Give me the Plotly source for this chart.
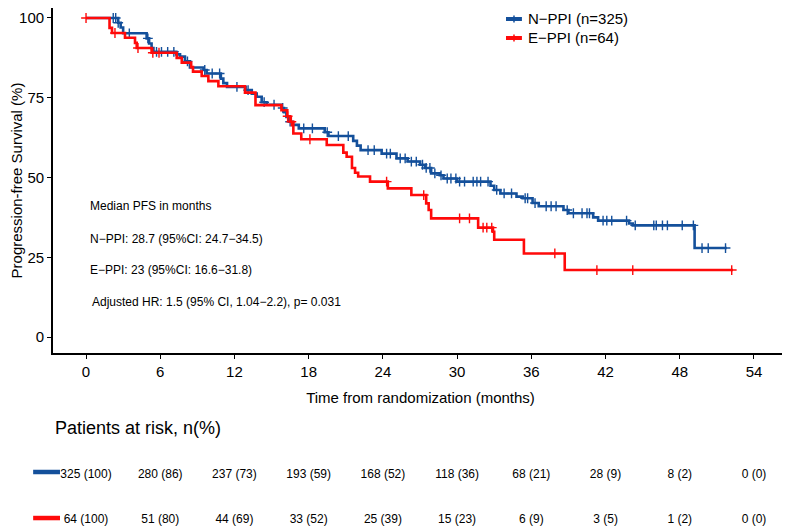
import numpy as np
import plotly.graph_objects as go

# ---------------- data ----------------
# N-PPI Kaplan-Meier steps (months, survival %)
times_nppi = [0, 2.6, 2.8, 3.0, 4.9, 5.1, 5.3, 5.45, 7.3, 7.6, 8.0, 8.4, 9.5, 9.75,
              10.9, 11.1, 11.4, 12.9, 13.4, 13.8, 14.2, 14.6, 15.8, 16.0, 16.2, 16.4,
              16.7, 17.2, 19.3, 19.6, 21.6, 21.9, 22.2, 23.9, 25.1, 26.0, 27.0, 27.4,
              27.9, 28.6, 28.9, 30.0, 32.7, 33.0, 33.5, 34.8, 35.3, 36.1, 36.6, 38.6,
              39.0, 41.0, 41.4, 43.9, 44.2, 49.2]
surv_nppi = [100, 98.5, 97.0, 95.2, 93.6, 92.0, 90.6, 89.4, 88.6, 87.9, 86.4, 84.5, 83.7, 82.6,
             81.0, 79.6, 78.4, 77.4, 76.3, 75.3, 73.6, 72.8, 71.8, 70.5, 69.0, 67.5,
             66.5, 65.4, 64.2, 63.0, 61.5, 60.0, 58.6, 57.5, 56.0, 55.0, 54.0, 53.0,
             51.3, 50.7, 49.7, 48.7, 47.4, 46.1, 45.0, 44.0, 43.5, 42.0, 41.0, 39.8,
             38.8, 37.5, 36.5, 35.6, 35.0, 27.9]
end_nppi = 51.8
cens_nppi = [2.2, 2.4, 2.6, 3.5, 5.0, 5.7, 6.1, 6.6, 7.1, 8.2, 9.6, 10.2, 10.8, 12.2, 13.1,
             14.4, 15.2, 15.9, 16.5, 17.6, 18.3, 19.5, 20.4, 21.2, 22.8, 23.3, 24.3, 24.6,
             25.4, 25.8, 26.3, 26.7, 27.2, 27.5, 27.8, 28.2, 28.7, 29.2, 29.5, 29.9, 30.2,
             30.6, 31.3, 31.6, 31.9, 32.5, 33.2, 33.8, 34.4, 35.5, 35.7, 36.3, 37.2, 37.6,
             38.0, 38.9, 39.4, 40.1, 40.5, 40.7, 41.8, 42.1, 42.5, 43.7, 44.4, 45.9, 46.1,
             46.6, 47.0, 48.2, 49.1, 49.8, 50.3, 51.7]

# E-PPI Kaplan-Meier steps
times_eppi = [0, 1.9, 2.1, 3.15, 3.96, 4.1, 5.3, 7.33, 7.74, 8.5, 8.65, 9.35, 9.89, 10.7,
              12.85, 13.7, 15.8, 16.27, 16.5, 16.76, 17.4, 19.46, 20.8, 21.07, 21.5, 21.75,
              22.0, 22.96, 24.4, 26.3, 27.5, 27.7, 27.9, 31.7, 32.9, 33.0, 35.4, 38.7]
surv_eppi = [100, 96.9, 95.3, 93.8, 92.2, 90.6, 89.1, 87.5, 86.0, 84.6, 83.2, 81.8, 80.2, 78.6,
             76.6, 72.7, 71.1, 69.2, 67.5, 63.8, 62.0, 60.2, 57.8, 56.5, 53.0, 51.5,
             50.3, 48.7, 46.6, 44.5, 41.9, 39.8, 37.2, 34.3, 33.0, 30.5, 26.2, 21.0]
end_eppi = 52.3
cens_eppi = [0, 2.34, 4.2, 5.4, 5.9, 16.3, 16.6, 18.1, 24.3, 27.3, 30.2, 31.0, 32.1, 32.4,
             32.8, 37.9, 41.3, 44.2, 52.2]

# numbers at risk
risk_times = [0, 6, 12, 18, 24, 30, 36, 42, 48, 54]
risk_n_nppi = [325, 280, 237, 193, 168, 118, 68, 28, 8, 0]
risk_p_nppi = [100, 86, 73, 59, 52, 36, 21, 9, 2, 0]
risk_n_eppi = [64, 51, 44, 33, 25, 15, 6, 3, 1, 0]
risk_p_eppi = [100, 80, 69, 52, 39, 23, 9, 5, 2, 0]

group_labels = ["N\u2212PPI (n=325)", "E\u2212PPI (n=64)"]

x_ticks = [0, 6, 12, 18, 24, 30, 36, 42, 48, 54]
y_ticks = [0, 25, 50, 75, 100]

BLUE = "#14509B"
RED = "#FF0A0A"
FONT = "Liberation Sans, Arial, sans-serif"


def step_xy(times, surv, end):
    return list(times) + [end], list(surv) + [surv[-1]]


def surv_at(times, surv, t):
    idx = np.searchsorted(np.asarray(times), np.asarray(t), side="right") - 1
    return list(np.asarray(surv)[idx])


fig = go.Figure()

for name, times, surv, end, cens, col in [
    (group_labels[0], times_nppi, surv_nppi, end_nppi, cens_nppi, BLUE),
    (group_labels[1], times_eppi, surv_eppi, end_eppi, cens_eppi, RED),
]:
    sx, sy = step_xy(times, surv, end)
    fig.add_trace(go.Scatter(x=sx, y=sy, mode="lines", line=dict(color=col, width=2.6, shape="hv"),
                             name=name, showlegend=False))
    fig.add_trace(go.Scatter(x=cens, y=surv_at(times, surv, cens), mode="markers",
                             marker=dict(symbol="cross-thin", size=7, line=dict(color=col, width=1.4)),
                             name=name + " censored", showlegend=False, hoverinfo="skip"))

# risk table rows (on a hidden second y axis sharing the x scale)
fig.add_trace(go.Scatter(x=risk_times, y=[1] * len(risk_times), yaxis="y2", mode="text",
                         text=[f"{n} ({p})" for n, p in zip(risk_n_nppi, risk_p_nppi)],
                         textfont=dict(size=12, color="black", family=FONT), showlegend=False,
                         cliponaxis=False, hoverinfo="skip"))
fig.add_trace(go.Scatter(x=risk_times, y=[0] * len(risk_times), yaxis="y2", mode="text",
                         text=[f"{n} ({p})" for n, p in zip(risk_n_eppi, risk_p_eppi)],
                         textfont=dict(size=12, color="black", family=FONT), showlegend=False,
                         cliponaxis=False, hoverinfo="skip"))

annot_font = dict(size=12, color="black", family=FONT)
leg_font = dict(size=15, color="black", family=FONT)
LEG_Y = [0.9791, 0.9430]
annotations = [
    dict(x=0.15, y=41.1, xref="x", yref="y", text="Median PFS in months", showarrow=False,
         xanchor="left", font=annot_font),
    dict(x=0.15, y=30.7, xref="x", yref="y", text="N\u2212PPI: 28.7 (95%CI: 24.7\u221234.5)",
         showarrow=False, xanchor="left", font=annot_font),
    dict(x=0.15, y=21.0, xref="x", yref="y", text="E\u2212PPI: 23 (95%CI: 16.6\u221231.8)",
         showarrow=False, xanchor="left", font=annot_font),
    dict(x=0.33, y=11.0, xref="x", yref="y",
         text="Adjusted HR: 1.5 (95% CI, 1.04\u22122.2), p= 0.031",
         showarrow=False, xanchor="left", font=annot_font),
    dict(x=0, y=0.2015, xref="paper", yref="paper", text="Patients at risk, n(%)",
         showarrow=False, xanchor="left", yanchor="middle",
         font=dict(size=18, color="black", family=FONT)),
    # legend labels
    dict(x=0.644, y=LEG_Y[0], xref="paper", yref="paper", text=group_labels[0], showarrow=False,
         xanchor="left", yanchor="middle", font=leg_font),
    dict(x=0.644, y=LEG_Y[1], xref="paper", yref="paper", text=group_labels[1], showarrow=False,
         xanchor="left", yanchor="middle", font=leg_font),
]

shapes = [
    # risk-table keys
    dict(type="line", xref="paper", yref="y2", x0=-0.027, x1=0.0095, y0=1.066, y1=1.066,
         line=dict(color=BLUE, width=4.5)),
    dict(type="line", xref="paper", yref="y2", x0=-0.027, x1=0.0095, y0=0.044, y1=0.044,
         line=dict(color=RED, width=4.5)),
]
# legend keys (short thick line with a small censor tick)
for ly, col in zip(LEG_Y, [BLUE, RED]):
    shapes.append(dict(type="line", xref="paper", yref="paper", x0=0.6163, x1=0.638,
                       y0=ly, y1=ly, line=dict(color=col, width=4)))
    shapes.append(dict(type="line", xref="paper", yref="paper", x0=0.6272, x1=0.6272,
                       y0=ly - 0.0065, y1=ly + 0.0065, line=dict(color=col, width=1.5)))

fig.update_layout(
    width=790, height=526,
    margin=dict(l=45, r=10, t=0, b=0),
    paper_bgcolor="white", plot_bgcolor="white",
    font=dict(family=FONT, color="black"),
    xaxis=dict(range=[-2.67, 56.75], tickvals=x_ticks, ticks="outside", ticklen=4,
               tickwidth=1.2, tickcolor="black", showline=True, linecolor="black",
               linewidth=1.8, showgrid=False, zeroline=False, anchor="y", automargin=False,
               tickfont=dict(size=15, color="black"),
               title=dict(text="Time from randomization (months)", font=dict(size=15),
                          standoff=14)),
    yaxis=dict(domain=[0.3441, 1], range=[-5, 103.13], tickvals=y_ticks, ticks="outside",
               ticklen=4, tickwidth=1.2, tickcolor="black", showline=True, linecolor="black",
               linewidth=1.8, showgrid=False, zeroline=False, automargin=False,
               tickfont=dict(size=15, color="black"),
               title=dict(text="Progression-free Survival (%)", font=dict(size=15), standoff=5)),
    yaxis2=dict(domain=[0, 0.2], range=[-0.311, 2.027], visible=False, anchor="x",
                automargin=False),
    annotations=annotations,
    shapes=shapes,
    showlegend=False,
)

fig.write_html("out.html")
